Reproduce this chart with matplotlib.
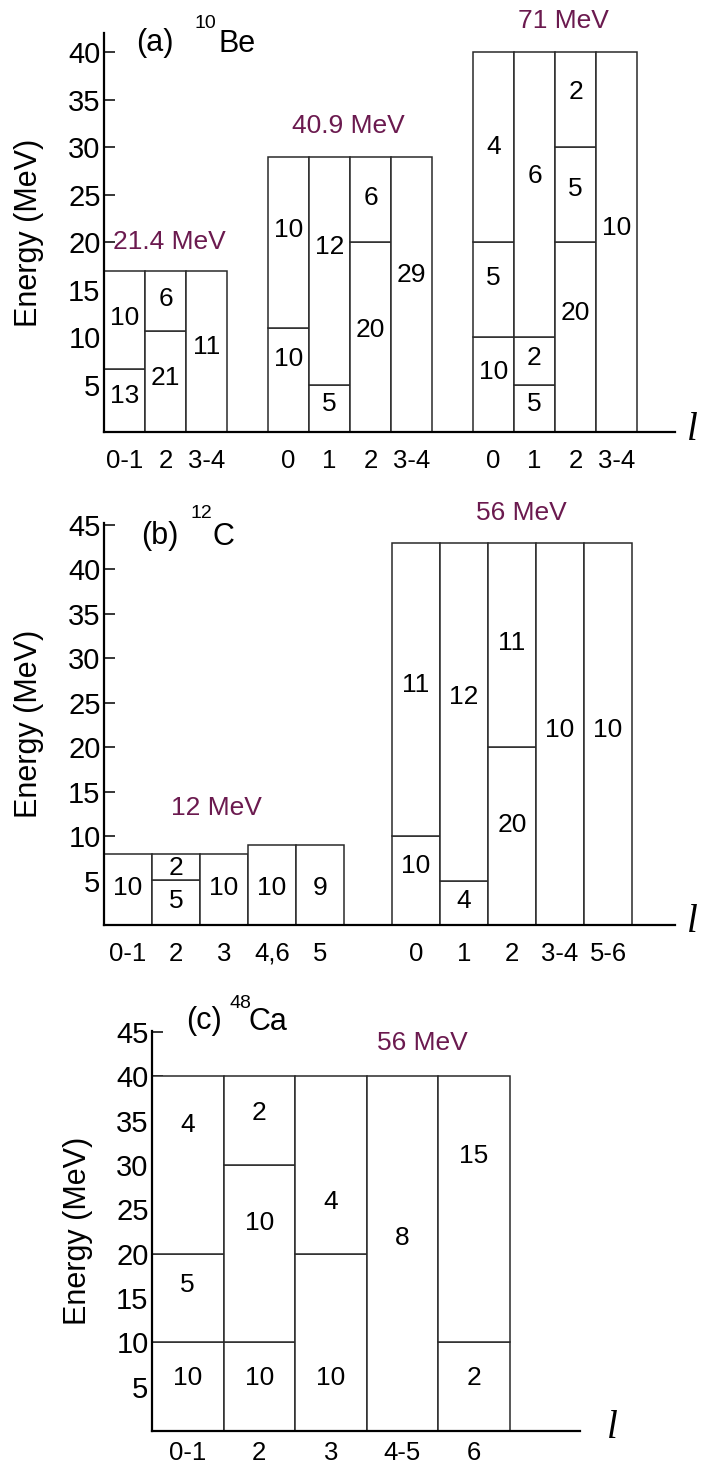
import matplotlib
matplotlib.use("Agg")
import matplotlib.pyplot as plt

plt.rcParams['font.family'] = ['Liberation Sans', 'DejaVu Sans']

# ---------------- data ----------------
# (a) 10Be : three beam energies
be_energy = ["21.4 MeV", "40.9 MeV", "71 MeV"]
be_waves = [["0-1", "2", "3-4"],
            ["0", "1", "2", "3-4"],
            ["0", "1", "2", "3-4"]]
# upper edge of every energy window in each l-bar (MeV)
be_bounds = [[[6.6, 17], [10.6, 17], [17]],
             [[10.9, 29], [5, 29], [20, 29], [29]],
             [[10, 20, 40], [5, 10, 40], [20, 30, 40], [40]]]
# number of states in each window
be_counts = [[[13, 10], [21, 6], [11]],
             [[10, 10], [5, 12], [20, 6], [29]],
             [[10, 5, 4], [5, 2, 6], [20, 5, 2], [10]]]

# (b) 12C : two beam energies
c_energy = ["12 MeV", "56 MeV"]
c_waves = [["0-1", "2", "3", "4,6", "5"],
           ["0", "1", "2", "3-4", "5-6"]]
c_bounds = [[[8], [5.1, 8], [8], [9], [9]],
            [[10, 43], [5, 43], [20, 43], [43], [43]]]
c_counts = [[[10], [5, 2], [10], [10], [9]],
            [[10, 11], [4, 12], [20, 11], [10], [10]]]

# (c) 48Ca : one beam energy
ca_energy = ["56 MeV"]
ca_waves = [["0-1", "2", "3", "4-5", "6"]]
ca_bounds = [[[10, 20, 40], [10, 30, 40], [20, 40], [40], [10, 40]]]
ca_counts = [[[10, 5, 4], [10, 10, 2], [10, 4], [8], [2, 15]]]

# ---------------- text placement (MeV) ----------------
be_text_y = [[[3.8, 12.0], [5.7, 14.0], [9.0]],
             [[7.7, 21.3], [3.0, 19.5], [10.7, 24.6], [16.5]],
             [[6.3, 16.2, 30.0], [3.0, 7.8, 27.0], [12.5, 25.6, 35.8], [21.5]]]
c_text_y = [[[4.2], [2.7, 6.4], [4.2], [4.2], [4.2]],
            [[6.6, 27.0], [2.7, 25.6], [11.2, 31.7], [21.9], [21.9]]]
ca_text_y = [[[6.0, 16.5, 34.5], [6.0, 23.5, 35.8], [6.0, 25.8], [21.8], [6.0, 31.0]]]

W, H = 712, 1465
PURPLE = '#6b1a4f'
EDGE = '#2a2a2a'

fig = plt.figure(figsize=(W / 100, H / 100), dpi=100)


def px_axes(left, right, bottom, top):
    return fig.add_axes([left / W, 1 - bottom / H, (right - left) / W, (bottom - top) / H])


def draw_panel(ax, waves, bounds, counts, text_y, energies, energy_xy,
               ymax, xmax, yticks, label_x, xpad=12):
    ax.set_xlim(0, xmax)
    ax.set_ylim(0, ymax)
    x0 = 0
    centers, names = [], []
    for g, (gw, gb, gc, gt) in enumerate(zip(waves, bounds, counts, text_y)):
        for i, (w, bnd, cnt, ty) in enumerate(zip(gw, gb, gc, gt)):
            x = x0 + i
            lower = 0
            for top, n, yt in zip(bnd, cnt, ty):
                ax.bar(x, top - lower, bottom=lower, width=1, align='edge',
                       facecolor='white', edgecolor=EDGE, linewidth=1.1,
                       zorder=2)
                ax.text(x + 0.5, yt, str(n), ha='center', va='center',
                        fontsize=19, zorder=3)
                lower = top
            centers.append(x + 0.5)
            names.append(w)
        x0 += len(gw) + 1
    for txt, (ex, ey) in zip(energies, energy_xy):
        ax.text(ex, ey, txt, ha='center', va='center', color=PURPLE,
                fontsize=19, clip_on=False)

    for s in ('top', 'right'):
        ax.spines[s].set_visible(False)
    for s in ('left', 'bottom'):
        ax.spines[s].set_linewidth(1.6)
        ax.spines[s].set_zorder(4)
    ax.set_yticks(yticks)
    ax.set_yticklabels([str(t) for t in yticks])
    ax.tick_params(axis='y', direction='in', length=8, width=1.1, pad=2.5,
                   labelsize=21)
    ax.set_xticks(centers)
    ax.set_xticklabels(names)
    ax.tick_params(axis='x', length=0, pad=xpad, labelsize=18.5)
    ax.set_ylabel('Energy (MeV)', fontsize=22, va='center')
    ax.yaxis.set_label_coords(label_x, 0.5)


def fig_text(x, y, s, **kw):
    fig.text(x / W, 1 - y / H, s, **kw)


# panel (a)
axA = px_axes(104, 675, 432, 33)
draw_panel(axA, be_waves, be_bounds, be_counts, be_text_y, be_energy,
           [(1.6, 20.0), (5.95, 32.2), (11.2, 43.3)],
           42, 571 / 41, list(range(5, 45, 5)), -75 / 571)

# panel (b)
axB = px_axes(104, 675, 925, 523)
draw_panel(axB, c_waves, c_bounds, c_counts, c_text_y, c_energy,
           [(2.35, 13.1), (8.7, 46.3)],
           45.2, 571 / 48, list(range(5, 50, 5)), -75 / 571)

# panel (c)
axC = px_axes(152, 580, 1431, 1031)
draw_panel(axC, ca_waves, ca_bounds, ca_counts, ca_text_y, ca_energy,
           [(3.78, 43.7)],
           45.1, 428 / 71.5, list(range(5, 50, 5)), -74 / 428, xpad=7)

# panel tags and nuclei
tag = dict(fontsize=22, va='center', ha='left')
sup = dict(fontsize=14, va='center', ha='left')
fig_text(136, 43, '(a)', **tag)
fig_text(194, 24, '10', **sup)
fig_text(218, 44, 'Be', **tag)

fig_text(141, 536, '(b)', **tag)
fig_text(191, 514, '12', **sup)
fig_text(213, 537, 'C', **tag)

fig_text(186, 1021, '(c)', **tag)
fig_text(229, 1003, '48', **sup)
fig_text(249, 1022, 'Ca', **tag)

# orbital angular momentum axis symbol
lsym = dict(fontsize=28, family='Liberation Serif', style='italic',
            va='center', ha='center')
fig_text(692, 430, 'l', **lsym)
fig_text(692, 923, 'l', **lsym)
fig_text(612, 1429, 'l', **lsym)

fig.savefig('out.png', dpi=100)
